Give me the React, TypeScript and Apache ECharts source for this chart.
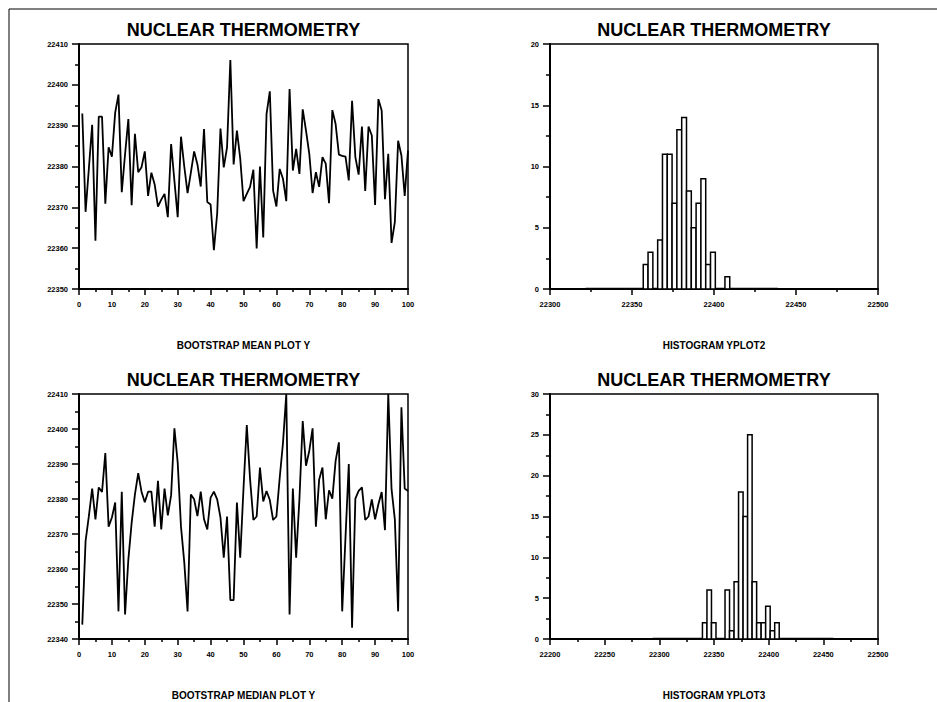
import React, { useEffect, useRef } from "react";
import * as echarts from "echarts";

// ---- Data ----
const TITLE = "NUCLEAR THERMOMETRY";
const xNames = ["BOOTSTRAP MEAN PLOT Y", "HISTOGRAM YPLOT2", "BOOTSTRAP MEDIAN PLOT Y", "HISTOGRAM YPLOT3"];

const meanY = [
  22393, 22368.9, 22379.5, 22390.2, 22361.8, 22392.2, 22392.2, 22370.9, 22384.7, 22382.4,
  22393.2, 22397.6, 22373.7, 22383, 22391.6, 22370.5, 22388, 22378.6, 22379.8, 22383.7,
  22372.8, 22378.5, 22375.6, 22370.2, 22371.9, 22373.3, 22367.6, 22385.5, 22376.5, 22367.6,
  22387.3, 22380, 22373.5, 22378.5, 22383.7, 22380.5, 22375.1, 22389.2, 22371.3, 22370.7,
  22359.5, 22368.5, 22389.3, 22379.8, 22384.7, 22406.1, 22380.5, 22388.8, 22382, 22371.5,
  22373.3, 22375, 22379.2, 22359.9, 22380, 22362.6, 22392.8, 22398.4, 22374.1, 22370.2,
  22379.4, 22377, 22371.5, 22399, 22379, 22384.3, 22378.2, 22394, 22388.8, 22383.1,
  22373.5, 22378.6, 22375, 22382.3, 22380.7, 22371, 22393.8, 22390.4, 22382.9, 22382.6,
  22382.4, 22376.6, 22396.1, 22382.3, 22378, 22389.8, 22374, 22389.8, 22387.6, 22370.6,
  22396.5, 22393.7, 22372, 22383.1, 22361.3, 22366.4, 22386.3, 22382.7, 22372.8, 22383.9,
];

const medianY = [
  22344.1, 22368, 22375.1, 22383, 22374.2, 22383.3, 22382, 22393.1, 22372.1, 22374.7,
  22379, 22347.9, 22382.1, 22347, 22362.7, 22373.2, 22381.3, 22387.4, 22382.1, 22379.1,
  22382.1, 22382.1, 22372.1, 22385.2, 22371.3, 22383, 22375.3, 22381.1, 22400.2, 22390.4,
  22372.1, 22361.9, 22347.9, 22381.3, 22379.9, 22375.1, 22382.1, 22374.2, 22371.3, 22380.4,
  22382.1, 22379.9, 22374.7, 22363.2, 22375, 22351.1, 22351.1, 22379, 22363.2, 22383,
  22401.1, 22385.6, 22374, 22375, 22389, 22379.3, 22382.3, 22379.7, 22374, 22375,
  22386, 22396, 22410, 22347, 22383, 22363.2, 22380, 22402.3, 22389.5, 22393.8,
  22400.2, 22372.1, 22385.6, 22389, 22374.2, 22382.5, 22380.1, 22390.9, 22396.2, 22347.9,
  22369, 22390, 22343.2, 22380.1, 22382.3, 22383.3, 22374, 22375, 22379.9, 22374.2,
  22378.5, 22382, 22371.1, 22410, 22382.8, 22374.2, 22347.9, 22406.2, 22383, 22382.3,
];

// Histogram of the bootstrap means: 40 classes
const hist2Lower = 22321.7;
const hist2Width = 2.93;
const hist2Counts = [
  0, 0, 0, 0, 0, 0, 0, 0, 0, 0,
  0, 0, 2, 3, 0, 4, 11, 11, 7, 13,
  14, 8, 5, 7, 9, 2, 3, 0, 0, 1,
  0, 0, 0, 0, 0, 0, 0, 0, 0, 0,
];

// Histogram of the bootstrap medians: 40 classes
const hist3Lower = 22294.0;
const hist3Width = 4.13;
const hist3Counts = [
  0, 0, 0, 0, 0, 0, 0, 0, 0, 0,
  0, 2, 6, 2, 0, 0, 6, 1, 7, 18,
  15, 25, 7, 2, 2, 4, 1, 2, 0, 0,
  0, 0, 0, 0, 0, 0, 0, 0, 0, 0,
];

const FONT = "'Liberation Sans', Arial, Helvetica, sans-serif";

const grids = [
  { left: 79, top: 44, width: 329, height: 245 },
  { left: 550, top: 44, width: 328, height: 245 },
  { left: 79, top: 394, width: 329, height: 245 },
  { left: 550, top: 394, width: 328, height: 245 },
];

const xRanges = [
  { min: 0, max: 100, interval: 10 },
  { min: 22300, max: 22500, interval: 50 },
  { min: 0, max: 100, interval: 10 },
  { min: 22200, max: 22500, interval: 50 },
];
const yRanges = [
  { min: 22350, max: 22410, interval: 10 },
  { min: 0, max: 20, interval: 5 },
  { min: 22340, max: 22410, interval: 10 },
  { min: 0, max: 30, interval: 5 },
];

function App() {
  const ref = useRef<HTMLDivElement>(null);
  useEffect(() => {
    if (!ref.current) return;
    const chart = echarts.init(ref.current, undefined, { renderer: "svg" });
    const labelStyle = {
      show: true,
      color: "#000",
      fontSize: 7.5,
      fontWeight: "bold" as const,
      fontFamily: FONT,
      formatter: (v: number) => String(v),
    };
    const xAxis = xRanges.map((r, i) => ({
      type: "value",
      gridIndex: i,
      min: r.min,
      max: r.max,
      interval: r.interval,
      axisLine: { show: true, onZero: false, lineStyle: { color: "#000", width: 2 } },
      axisTick: { show: true, length: 6, lineStyle: { color: "#000", width: 1.5 } },
      minorTick: { show: true, splitNumber: 2, length: 3, lineStyle: { color: "#000", width: 1.5 } },
      splitLine: { show: false },
      minorSplitLine: { show: false },
      axisLabel: { ...labelStyle, margin: 11 },
    }));
    const yAxis = yRanges.map((r, i) => ({
      type: "value",
      gridIndex: i,
      min: r.min,
      max: r.max,
      interval: r.interval,
      axisLine: { show: true, onZero: false, lineStyle: { color: "#000", width: 2 } },
      axisTick: { show: true, length: 7, lineStyle: { color: "#000", width: 1.5 } },
      minorTick: { show: true, splitNumber: 2, length: 4, lineStyle: { color: "#000", width: 1.5 } },
      splitLine: { show: false },
      minorSplitLine: { show: false },
      axisLabel: { ...labelStyle, margin: 11 },
    }));

    const histData = (lower: number, width: number, counts: number[]) =>
      counts.map((c, i) => [lower + i * width, lower + (i + 1) * width, c]);

    const renderHist = (params: any, api: any) => {
      const x0 = api.value(0);
      const x1 = api.value(1);
      const c = api.value(2);
      const p0 = api.coord([x0, c]);
      const p1 = api.coord([x1, 0]);
      if (c === 0) {
        return {
          type: "line",
          shape: { x1: p0[0], y1: p1[1], x2: p1[0], y2: p1[1] },
          style: { stroke: "#000", lineWidth: 2.5 },
        };
      }
      return {
        type: "rect",
        shape: { x: p0[0], y: p0[1], width: p1[0] - p0[0], height: p1[1] - p0[1] },
        style: { fill: "#fff", stroke: "#000", lineWidth: 1.5 },
      };
    };

    const graphicTexts: any[] = [];
    grids.forEach((g, i) => {
      const cx = g.left + g.width / 2;
      graphicTexts.push({
        type: "text",
        x: cx,
        y: g.top - 14,
        style: {
          text: TITLE,
          fill: "#000",
          font: `bold 18px ${FONT}`,
          align: "center",
          verticalAlign: "middle",
        },
      });
      graphicTexts.push({
        type: "text",
        x: cx,
        y: g.top + g.height + 56,
        style: {
          text: xNames[i],
          fill: "#000",
          font: `bold 10px ${FONT}`,
          align: "center",
          verticalAlign: "middle",
        },
      });
    });

    chart.setOption({
      animation: false,
      backgroundColor: "#fff",
      grid: grids.map((g) => ({
        ...g,
        show: true,
        borderColor: "#000",
        borderWidth: 1.5,
        backgroundColor: "transparent",
        containLabel: false,
      })),
      xAxis,
      yAxis,
      graphic: [
        {
          type: "polyline",
          shape: { points: [[9, 710], [9, 9], [945, 9]] },
          style: { stroke: "#000", lineWidth: 1, fill: null },
          silent: true,
        },
        ...graphicTexts,
      ],
      series: [
        {
          type: "line",
          xAxisIndex: 0,
          yAxisIndex: 0,
          data: meanY.map((v, i) => [i + 1, v]),
          showSymbol: false,
          symbol: "none",
          lineStyle: { color: "#000", width: 1.8 },
          clip: true,
        },
        {
          type: "custom",
          xAxisIndex: 1,
          yAxisIndex: 1,
          data: histData(hist2Lower, hist2Width, hist2Counts),
          encode: { x: [0, 1], y: 2 },
          renderItem: renderHist,
          clip: true,
        },
        {
          type: "line",
          xAxisIndex: 2,
          yAxisIndex: 2,
          data: medianY.map((v, i) => [i + 1, v]),
          showSymbol: false,
          symbol: "none",
          lineStyle: { color: "#000", width: 1.8 },
          clip: true,
        },
        {
          type: "custom",
          xAxisIndex: 3,
          yAxisIndex: 3,
          data: histData(hist3Lower, hist3Width, hist3Counts),
          encode: { x: [0, 1], y: 2 },
          renderItem: renderHist,
          clip: true,
        },
      ],
    });
    return () => chart.dispose();
  }, []);
  return (
    <div
      ref={ref}
      style={{ position: "fixed", left: 0, top: 0, width: 937, height: 702, background: "#fff" }}
    />
  );
}

export default App;
